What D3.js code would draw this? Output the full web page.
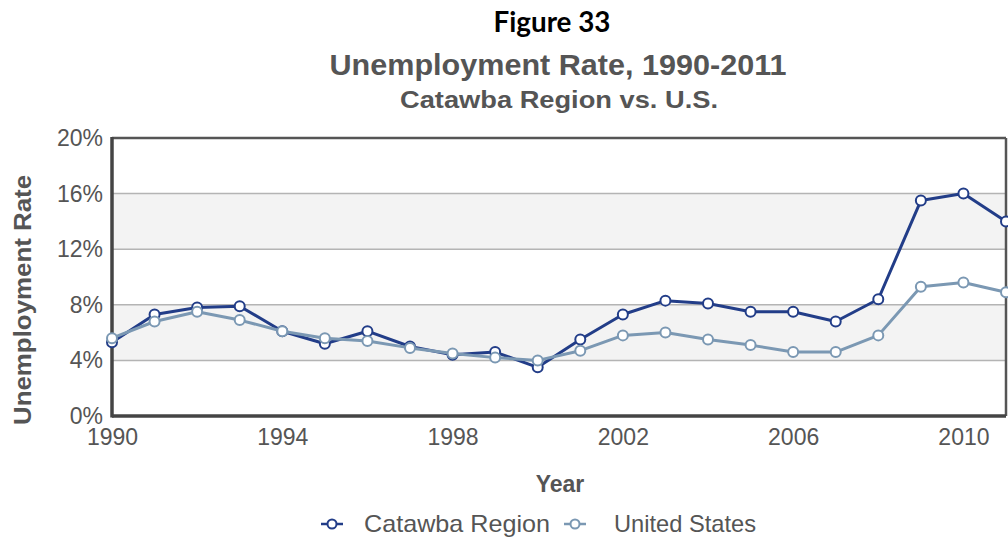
<!DOCTYPE html>
<html>
<head>
<meta charset="utf-8">
<script src="https://cdn.jsdelivr.net/npm/d3@7"></script>
<style>
  html, body { margin: 0; padding: 0; background: #fff; }
  svg { display: block; }
  text { font-family: "Liberation Sans", Arial, Helvetica, sans-serif; }
</style>
</head>
<body>
<svg id="chart" width="1008" height="541"></svg>
<script>
const years = [1990,1991,1992,1993,1994,1995,1996,1997,1998,1999,2000,2001,2002,2003,2004,2005,2006,2007,2008,2009,2010,2011];
const catawba = [5.3,7.3,7.8,7.9,6.1,5.2,6.1,5.0,4.4,4.6,3.5,5.5,7.3,8.3,8.1,7.5,7.5,6.8,8.4,15.5,16.0,14.0];
const unitedStates = [5.6,6.8,7.5,6.9,6.1,5.6,5.4,4.9,4.5,4.2,4.0,4.7,5.8,6.0,5.5,5.1,4.6,4.6,5.8,9.3,9.6,8.9];
const yTicks = [0,4,8,12,16,20];
const xTicks = [1990,1994,1998,2002,2006,2010];
const seriesNames = ["Catawba Region","United States"];
const seriesColors = ["#223d88","#7b98b3"];

(function () {
const svg = d3.select("#chart");
const pL = 112, pR = 1006, pT = 138, pB = 416;
const x = d3.scaleLinear().domain([1990, 2011]).range([pL, pR]);
const y = d3.scaleLinear().domain([0, 20]).range([pB, pT]);

// titles
svg.append("text").attr("x", 552).attr("y", 32).attr("text-anchor", "middle")
  .style("font-family", "Lato, 'Open Sans', sans-serif").style("font-weight", "bold")
  .style("font-size", "29px").attr("fill", "#000")
  .attr("textLength", 117).attr("lengthAdjust", "spacingAndGlyphs").text("Figure 33");
svg.append("text").attr("x", 558).attr("y", 75).attr("text-anchor", "middle")
  .style("font-weight", "bold").style("font-size", "30px").attr("fill", "#555")
  .attr("textLength", 457).attr("lengthAdjust", "spacingAndGlyphs").text("Unemployment Rate, 1990-2011");
svg.append("text").attr("x", 559).attr("y", 108).attr("text-anchor", "middle")
  .style("font-weight", "bold").style("font-size", "24px").attr("fill", "#555")
  .attr("textLength", 318).attr("lengthAdjust", "spacingAndGlyphs").text("Catawba Region vs. U.S.");

// bands
const bands = [[4,8],[12,16]];
svg.append("g").selectAll("rect").data(bands).join("rect")
  .attr("x", pL).attr("width", pR - pL)
  .attr("y", d => y(d[1])).attr("height", d => y(d[0]) - y(d[1]))
  .attr("fill", "#f3f3f3");

// gridlines
svg.append("g").selectAll("line").data(yTicks.filter(t => t > 0 && t < 20)).join("line")
  .attr("x1", pL).attr("x2", pR).attr("y1", d => y(d)).attr("y2", d => y(d))
  .attr("stroke", "#b4b4b4").attr("stroke-width", 1.5);

// frame
svg.append("line").attr("x1", pL).attr("x2", pR).attr("y1", pT).attr("y2", pT)
  .attr("stroke", "#555").attr("stroke-width", 2.5);
svg.append("line").attr("x1", pR).attr("x2", pR).attr("y1", pT).attr("y2", pB)
  .attr("stroke", "#555").attr("stroke-width", 2.5);
svg.append("line").attr("x1", pL).attr("x2", pR).attr("y1", pB).attr("y2", pB)
  .attr("stroke", "#444").attr("stroke-width", 3.5);
svg.append("line").attr("x1", pL).attr("x2", pL).attr("y1", pT - 1).attr("y2", pB + 1.5)
  .attr("stroke", "#444").attr("stroke-width", 3.5);

// axes
const yAxis = svg.append("g").attr("transform", `translate(${pL - 9},0)`)
  .call(d3.axisLeft(y).tickValues(yTicks).tickFormat(d => d + "%").tickSize(0).tickPadding(0));
yAxis.select(".domain").remove();
yAxis.selectAll("text").style("font-size", "23px").attr("fill", "#555")
  .style("font-family", "'Liberation Sans', Arial, sans-serif").attr("dy", "0.33em");

const xAxis = svg.append("g").attr("transform", `translate(0,${pB})`)
  .call(d3.axisBottom(x).tickValues(xTicks).tickFormat(d3.format("d")).tickSize(0).tickPadding(13));
xAxis.select(".domain").remove();
xAxis.selectAll("text").style("font-size", "23px").attr("fill", "#555")
  .style("font-family", "'Liberation Sans', Arial, sans-serif");

// axis titles
svg.append("text").attr("x", 560).attr("y", 492).attr("text-anchor", "middle")
  .style("font-weight", "bold").style("font-size", "23px").attr("fill", "#555").text("Year");
svg.append("text").attr("transform", "translate(31,300) rotate(-90)").attr("text-anchor", "middle")
  .style("font-weight", "bold").style("font-size", "23px").attr("fill", "#555")
  .attr("textLength", 250).attr("lengthAdjust", "spacingAndGlyphs").text("Unemployment Rate");

// series
const series = [catawba, unitedStates];
const line = d3.line().x((d, i) => x(years[i])).y(d => y(d));
series.forEach((vals, si) => {
  const g = svg.append("g");
  g.append("path").datum(vals).attr("d", line).attr("fill", "none")
    .attr("stroke", seriesColors[si]).attr("stroke-width", 3).attr("stroke-linejoin", "round");
  g.selectAll("circle").data(vals).join("circle")
    .attr("cx", (d, i) => x(years[i])).attr("cy", d => y(d)).attr("r", 5)
    .attr("fill", "#fff").attr("stroke", seriesColors[si]).attr("stroke-width", 2);
});

// legend
const legendItems = [
  {cx: 332, tx: 364, len: 186},
  {cx: 575, tx: 614, len: 142}
];
legendItems.forEach((it, i) => {
  const g = svg.append("g");
  g.append("line").attr("x1", it.cx - 11).attr("x2", it.cx + 11).attr("y1", 524).attr("y2", 524)
    .attr("stroke", seriesColors[i]).attr("stroke-width", 2.5);
  g.append("circle").attr("cx", it.cx).attr("cy", 524).attr("r", 4.5)
    .attr("fill", "#fff").attr("stroke", seriesColors[i]).attr("stroke-width", 2);
  g.append("text").attr("x", it.tx).attr("y", 532).style("font-size", "24px").attr("fill", "#555")
    .attr("textLength", it.len).attr("lengthAdjust", "spacingAndGlyphs").text(seriesNames[i]);
});
})();
</script>
</body>
</html>
